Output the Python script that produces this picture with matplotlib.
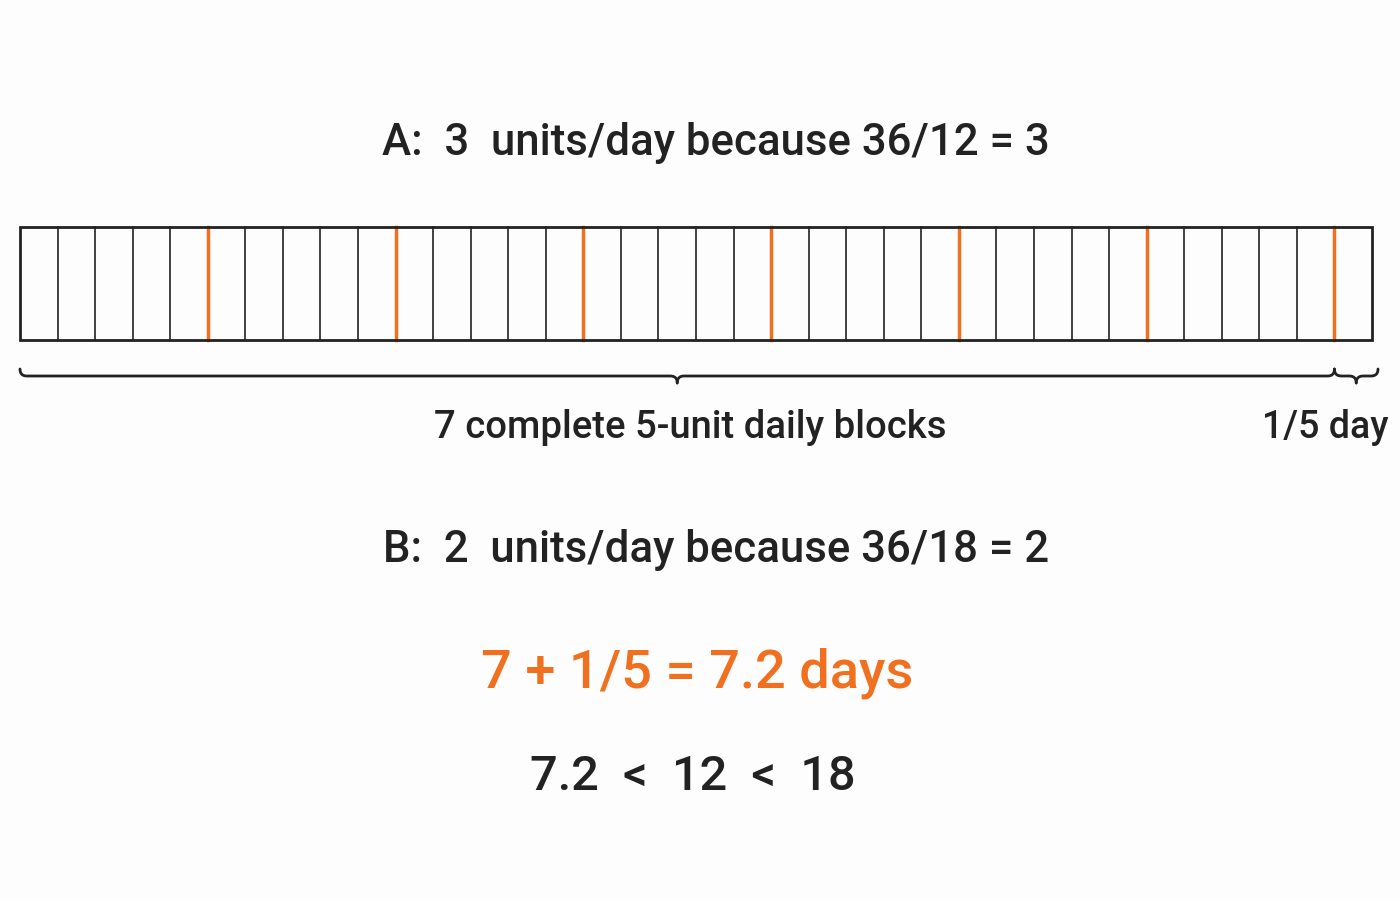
import numpy as np
import matplotlib.pyplot as plt
from matplotlib.patches import Rectangle

total_units = 36
units_per_day = 5
full_days = 7
title_a = "A:  3  units/day because 36/12 = 3"
title_b = "B:  2  units/day because 36/18 = 2"
brace_big_label = "7 complete 5-unit daily blocks"
brace_small_label = "1/5 day"
result_text = "7 + 1/5 = 7.2 days"
compare_text = "7.2  <  12  <  18"

orange = '#f07020'
dark = '#222222'

plt.rcParams['font.family'] = ['Roboto', 'DejaVu Sans']

fig = plt.figure(figsize=(14, 9), dpi=100)
ax = fig.add_axes([0, 0, 1, 1])
ax.set_xlim(0, 1400)
ax.set_ylim(900, 0)
ax.axis('off')
fig.patch.set_facecolor('#fdfdfd')

# strip of unit cells
x0, x1 = 20, 1372
y0, y1 = 227, 340
w = (x1 - x0) / total_units
for i in range(1, total_units):
    c = orange if i % units_per_day == 0 else dark
    lw = 2.5 if i % units_per_day == 0 else 1.2
    ax.plot([x0 + i * w] * 2, [y0, y1], color=c, lw=lw, zorder=2)
ax.add_patch(Rectangle((x0, y0), x1 - x0, y1 - y0, fill=False, ec=dark, lw=2, zorder=3))


def qbez(p0, p1, p2, n=12):
    t = np.linspace(0, 1, n)[:, None]
    p0, p1, p2 = map(np.array, (p0, p1, p2))
    return (1 - t) ** 2 * p0 + 2 * (1 - t) * t * p1 + t ** 2 * p2


def brace(xa, xb, y, h):
    xm = (xa + xb) / 2
    q = h / 2
    pts = np.vstack([
        qbez((xa, y - q), (xa, y), (xa + q, y)),
        qbez((xm - q, y), (xm, y), (xm, y + q)),
    ])
    right = np.vstack([
        qbez((xm, y + q), (xm, y), (xm + q, y)),
        qbez((xb - q, y), (xb, y), (xb, y - q)),
    ])
    ax.plot(pts[:, 0], pts[:, 1], color=dark, lw=2, solid_capstyle='round')
    ax.plot(right[:, 0], right[:, 1], color=dark, lw=2, solid_capstyle='round')


split = x0 + full_days * units_per_day * w
brace(x0, split, 376, 14)
brace(split, 1378, 376, 14)

ax.text(716, 143, title_a, ha='center', va='center', fontsize=31.5, fontweight='medium', color=dark)
ax.text(690, 428, brace_big_label, ha='center', va='center', fontsize=27.5, fontweight='medium', color=dark)
ax.text(1325, 428, brace_small_label, ha='center', va='center', fontsize=27, fontweight='medium', color=dark)
ax.text(716, 550, title_b, ha='center', va='center', fontsize=31.5, fontweight='medium', color=dark)
ax.text(697, 673, result_text, ha='center', va='center', fontsize=39, fontweight='medium', color=orange)
ax.text(693, 777, compare_text, ha='center', va='center', fontsize=35, fontweight='medium', color=dark)

fig.savefig('out.png', dpi=100, facecolor=fig.get_facecolor())
